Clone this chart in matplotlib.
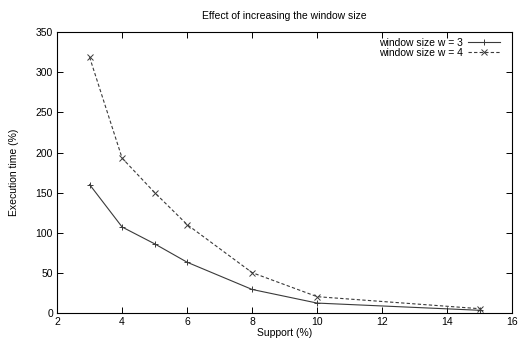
import matplotlib
matplotlib.use("Agg")
import matplotlib.pyplot as plt

plt.rcParams['font.family'] = ['Liberation Sans', 'DejaVu Sans']

support = [3, 4, 5, 6, 8, 10, 15]
time_w3 = [160, 107, 86, 63, 29, 12, 3]
time_w4 = [319, 193, 150, 110, 50, 20, 5]

fig = plt.figure(figsize=(5.19, 3.41), dpi=100)
ax = fig.add_axes([0.110, 0.083, 0.877, 0.822])

ax.plot(support, time_w3, color='#3a3a3a', lw=0.8, marker='+', ms=5, mew=0.7,
        label='window size w = 3')
ax.plot(support, time_w4, color='#3a3a3a', lw=0.8, ls=(0, (3, 2)), marker='x',
        ms=4, mew=0.7, label='window size w = 4')

ax.set_xlim(2, 16)
ax.set_ylim(0, 350)
ax.set_xticks(range(2, 17, 2))
ax.set_yticks(range(0, 351, 50))
ax.tick_params(direction='in', top=True, right=True, labelsize=7.5,
               length=4, width=0.7, pad=3)
for s in ax.spines.values():
    s.set_linewidth(0.8)

ax.set_title('Effect of increasing the window size', fontsize=7.5, pad=10)
ax.set_xlabel('Support (%)', fontsize=7.5, labelpad=1)
ax.set_ylabel('Execution time (%)', fontsize=7.5, labelpad=12)

ax.legend(loc='upper right', bbox_to_anchor=(0.985, 1.0), frameon=False,
          markerfirst=False, fontsize=7.5, handlelength=3.0,
          labelspacing=0.0, borderaxespad=0.45, borderpad=0.1,
          handletextpad=0.5)

fig.savefig('out.png', dpi=100)
